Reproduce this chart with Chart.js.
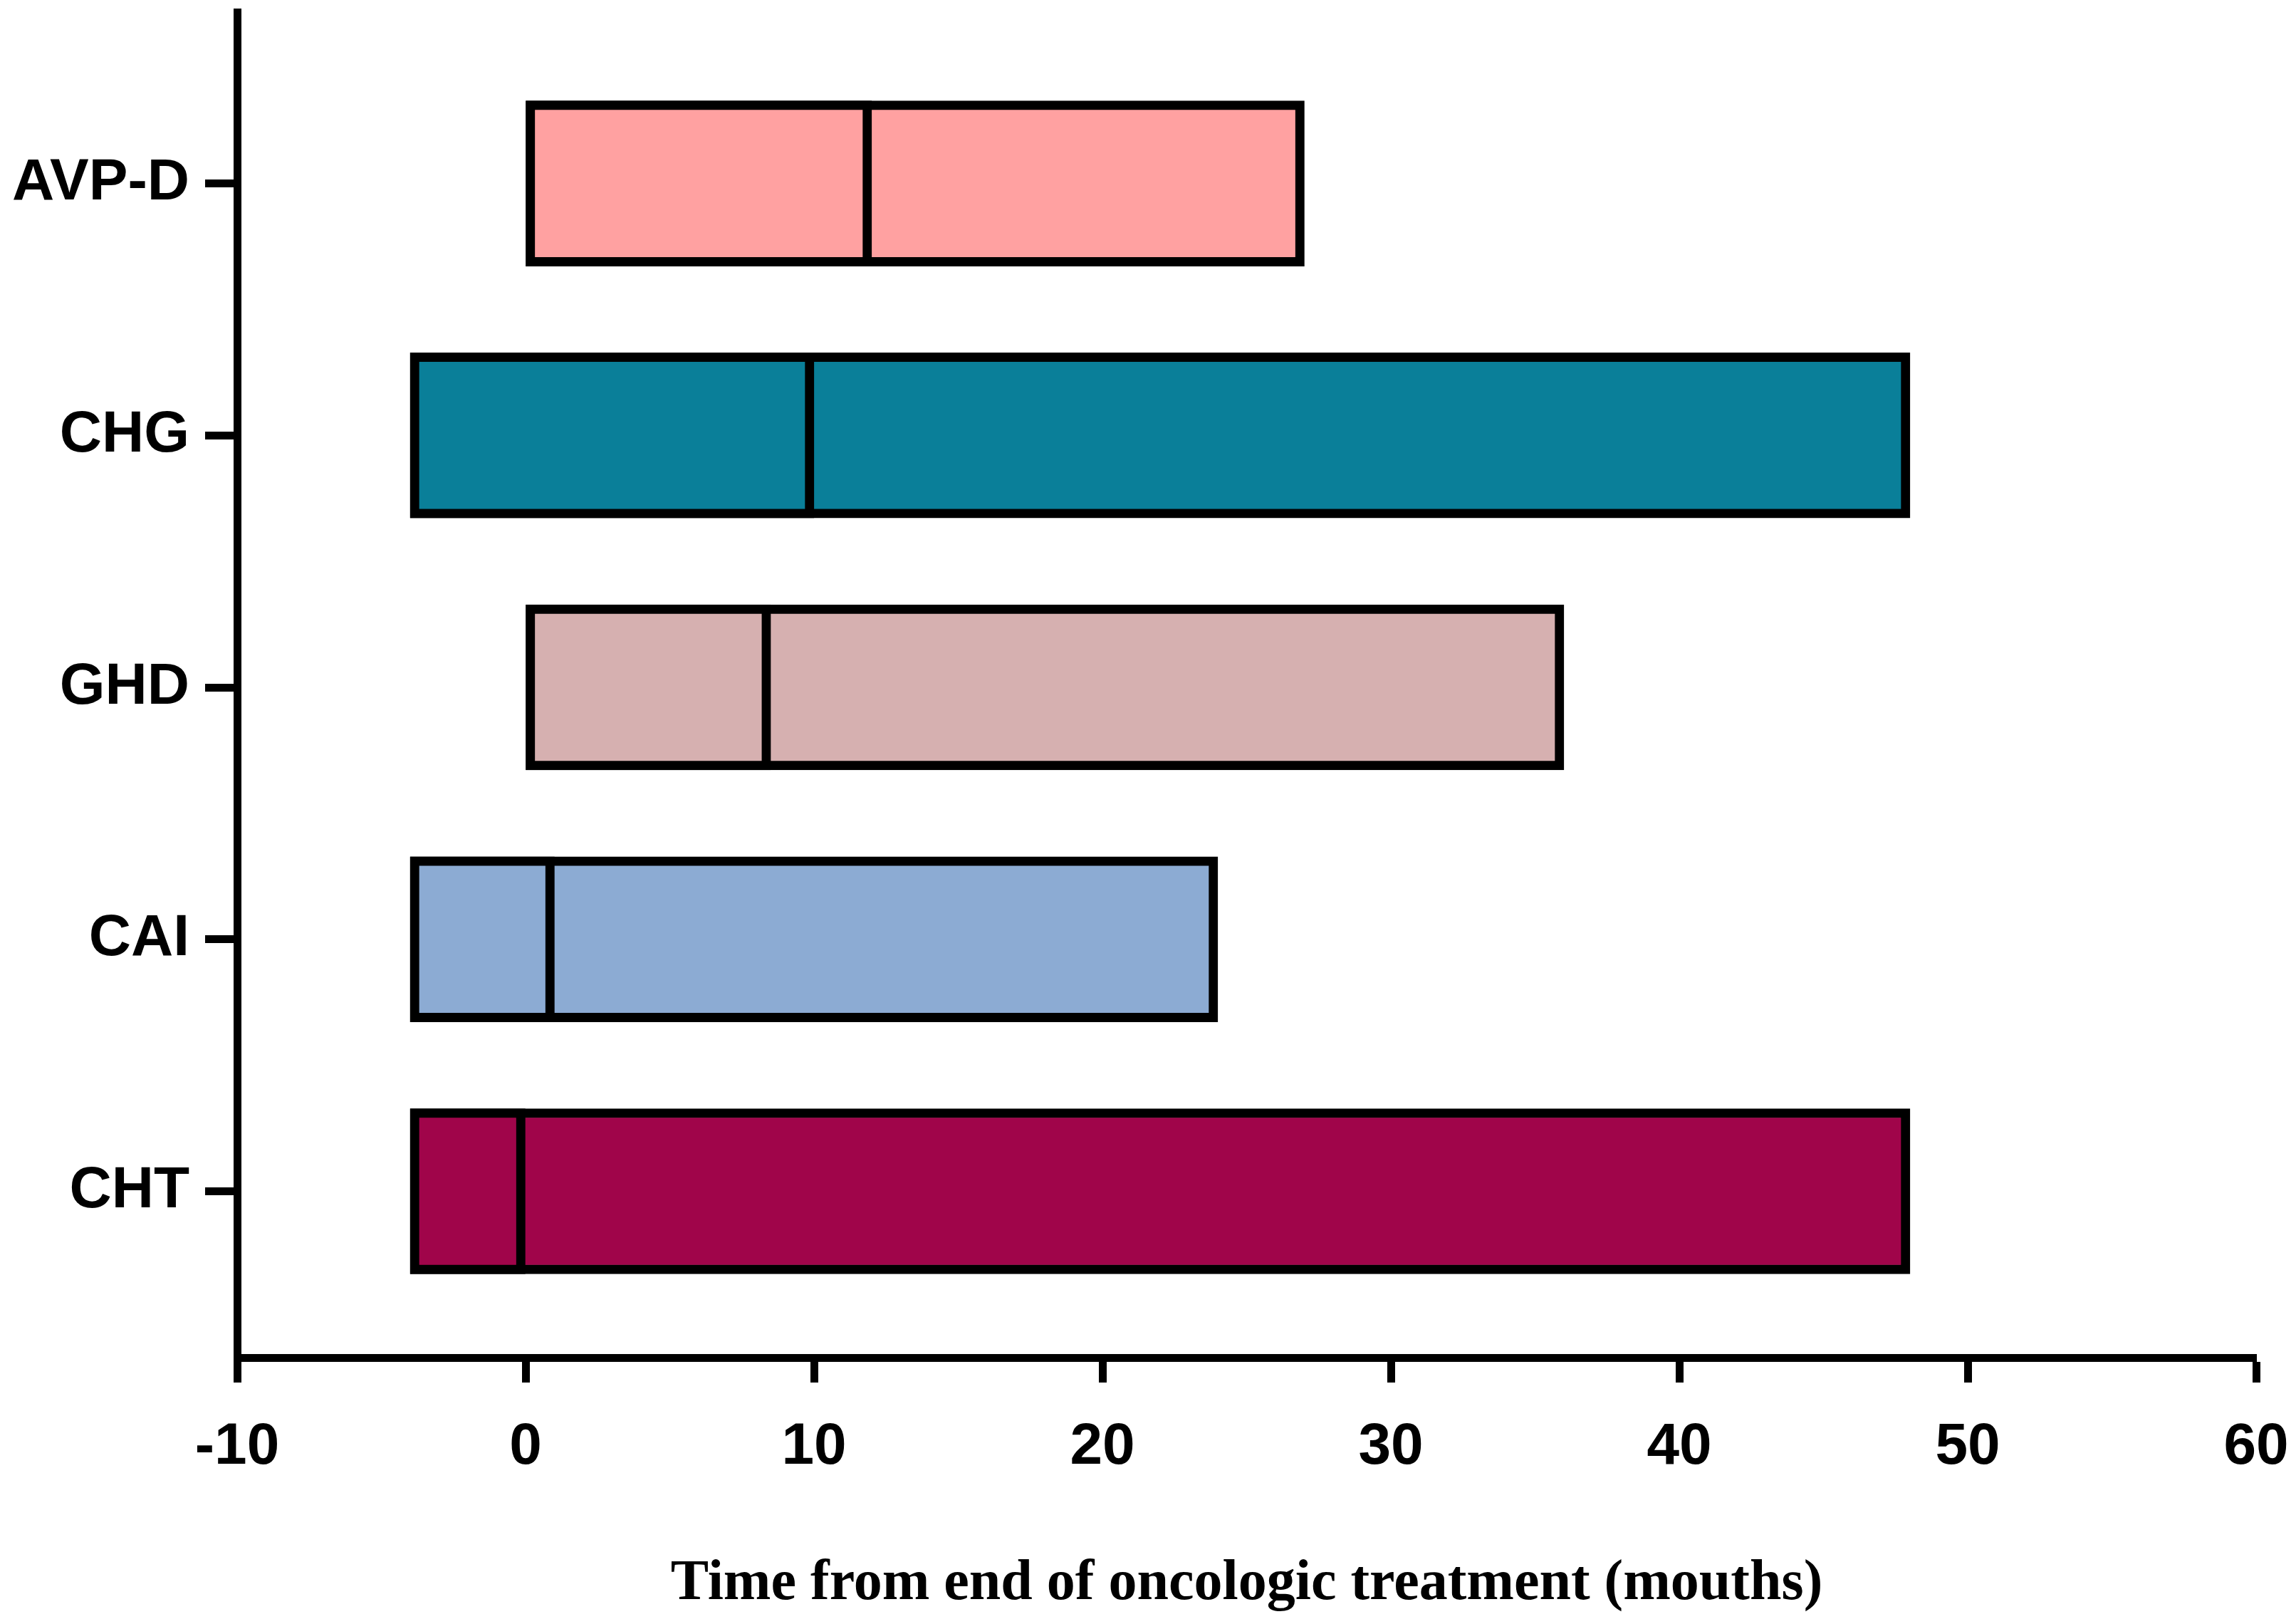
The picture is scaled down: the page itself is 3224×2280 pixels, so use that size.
<!DOCTYPE html>
<html>
<head>
<meta charset="utf-8">
<script src="https://cdn.jsdelivr.net/npm/chart.js@4.4.1/dist/chart.umd.min.js"></script>
<style>
  html, body { margin: 0; padding: 0; background: #fff; }
  #chart { display: block; }
</style>
</head>
<body>
<canvas id="chart" width="3224" height="2280" style="width:3224px;height:2280px"></canvas>
<script>
// categories, top to bottom
var categories = ["AVP-D", "CHG", "GHD", "CAI", "CHT"];
// range start / end and median (months from end of treatment)
var startValues = [0, -4, 0, -4, -4];
var endValues = [27, 48, 36, 24, 48];
var medianValues = [12, 10, 8.5, 1, 0];
var barColors = ["#FFA1A1", "#0A7F99", "#D6B0B0", "#8CABD3", "#A0054A"];
var xTicks = [-10, 0, 10, 20, 30, 40, 50, 60];

var fullRange = categories.map(function(c, i){
	return { x: [startValues[i], endValues[i]], y: i };
});
var lowerPart = categories.map(function(c, i){
	return { x: [startValues[i], medianValues[i]], y: i };
});

var barStyle = {
	backgroundColor: barColors,
	borderColor: "#000",
	borderWidth: 13,
	borderSkipped: false,
	barThickness: 232,
	grouped: false
};

new Chart(document.getElementById("chart"), {
	type: "bar",
	data: {
		datasets: [
			// first dataset is painted last, so the median edge sits on top
			Object.assign({ label: "median", data: lowerPart }, barStyle),
			Object.assign({ label: "range", data: fullRange }, barStyle)
		]
	},
	options: {
		indexAxis: "y",
		responsive: false,
		devicePixelRatio: 1,
		animation: false,
		layout: { padding: { top: 17, right: 56, left: 0, bottom: 0 } },
		plugins: {
			legend: { display: false },
			tooltip: { enabled: false }
		},
		scales: {
			x: {
				type: "linear",
				min: -10,
				max: 60,
				afterBuildTicks: function(scale){
					scale.ticks = xTicks.map(function(v){ return { value: v }; });
				},
				afterFit: function(scale){
					scale.height = 374;
					scale.paddingLeft = 0;
					scale.paddingRight = 0;
				},
				border: { color: "#000", width: 11 },
				grid: { drawOnChartArea: false, tickLength: 35, tickWidth: 11, tickColor: "#000" },
				ticks: {
					color: "#000",
					padding: 42,
					font: { family: "Liberation Sans", weight: "bold", size: 82 }
				},
				title: {
					display: true,
					text: "Time from end of oncologic treatment (mouths)",
					color: "#000",
					padding: { top: 0, bottom: 8 },
					font: { family: "Liberation Serif", weight: "bold", size: 80 }
				}
			},
			y: {
				type: "linear",
				reverse: true,
				offset: false,
				min: -0.68,
				max: 4.66,
				afterBuildTicks: function(scale){
					scale.ticks = categories.map(function(c, i){ return { value: i }; });
				},
				afterFit: function(scale){
					scale.width = 333;
					scale.paddingTop = 0;
					scale.paddingBottom = 0;
				},
				border: { color: "#000", width: 11 },
				grid: { offset: false, drawOnChartArea: false, tickLength: 45, tickWidth: 11, tickColor: "#000" },
				ticks: {
					color: "#000",
					padding: 22,
					font: { family: "Liberation Sans", weight: "bold", size: 82 },
					callback: function(value){ return categories[value]; }
				}
			}
		}
	}
});
</script>
</body>
</html>
